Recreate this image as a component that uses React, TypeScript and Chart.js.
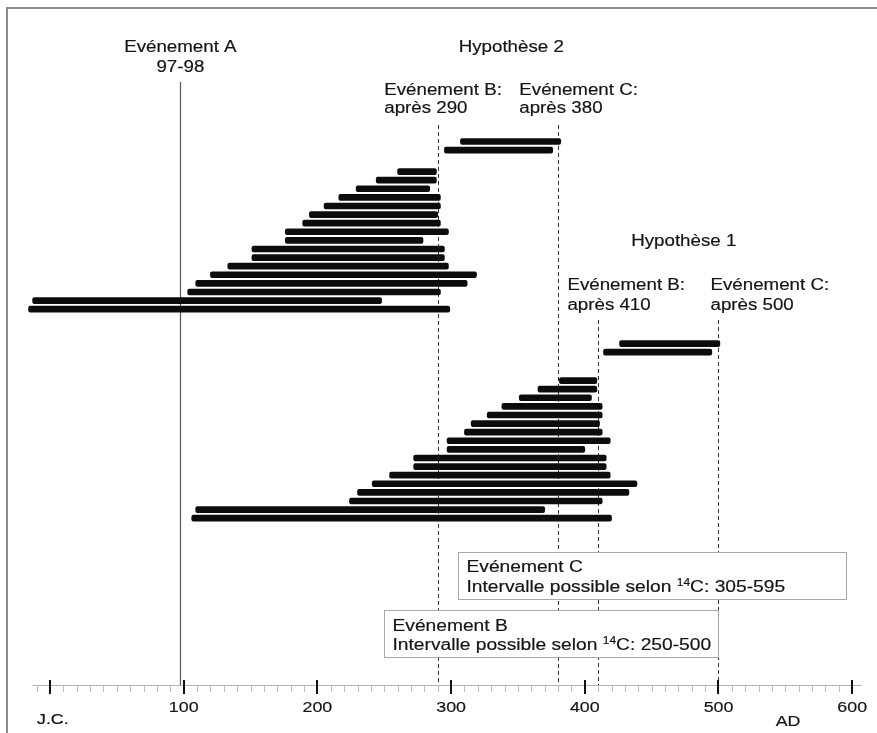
import React, { useEffect, useRef } from 'react';
import { Chart, registerables } from 'chart.js';

Chart.register(...registerables);

// ---- Data ----
// Hypothèse 2 (upper group): start / end years of each bar, and its row
const hyp2Start = [307, 295, 260, 244, 229, 216, 205, 194, 189, 176, 176, 151, 151, 133, 120, 109, 103, -13, -16];
const hyp2End = [382, 376, 289, 289, 284, 292, 292, 290, 292, 298, 279, 295, 295, 298, 319, 312, 292, 248, 299];
const hyp2Rows = [0, 1, 3.5, 4.5, 5.5, 6.5, 7.5, 8.5, 9.5, 10.5, 11.5, 12.5, 13.5, 14.5, 15.5, 16.5, 17.5, 18.5, 19.5];

// Hypothèse 1 (lower group)
const hyp1Start = [426, 414, 381, 365, 351, 338, 327, 315, 310, 297, 297, 272, 272, 254, 241, 230, 224, 109, 106];
const hyp1End = [501, 495, 409, 409, 405, 413, 413, 411, 413, 419, 400, 416, 416, 419, 439, 433, 413, 370, 420];
const hyp1Rows = [23.5, 24.5, 27.8, 28.8, 29.8, 30.8, 31.8, 32.8, 33.8, 34.8, 35.8, 36.8, 37.8, 38.8, 39.8, 40.8, 41.8, 42.8, 43.8];

// Events
const eventA = 97.5;
const eventALabel = ['Evénement A', '97-98'];
const hyp2Events = [290, 380];
const hyp1Events = [410, 500];
const eventCRange = [305, 595];
const eventBRange = [250, 500];

// Axis
const majorTicks = [0, 100, 200, 300, 400, 500, 600];
const majorLabels = ['J.C.', '100', '200', '300', '400', '500', '600'];
const axisRange = [-13, 607];

const FONT = '"Liberation Sans", Arial, Helvetica, sans-serif';

function drawText(
  ctx: CanvasRenderingContext2D,
  s: string,
  x: number,
  y: number,
  align: CanvasTextAlign,
  size: number,
  sx = 1.17
): number {
  ctx.save();
  ctx.font = `${size}px ${FONT}`;
  ctx.textAlign = align;
  ctx.textBaseline = 'middle';
  ctx.fillStyle = '#141414';
  ctx.strokeStyle = '#141414';
  ctx.lineWidth = 0.18;
  ctx.translate(x, y);
  ctx.scale(sx, 1);
  ctx.fillText(s, 0, 0);
  ctx.strokeText(s, 0, 0);
  const w = ctx.measureText(s).width * sx;
  ctx.restore();
  return w;
}

const annotations = {
  id: 'annotations',
  beforeDatasetsDraw(chart: any) {
    const ctx: CanvasRenderingContext2D = chart.ctx;
    const xs = chart.scales.x;
    const ys = chart.scales.y;
    const axisY = ys.getPixelForValue(63.2);

    // frame
    ctx.save();
    ctx.strokeStyle = '#8a8a8a';
    ctx.lineWidth = 2;
    ctx.beginPath();
    ctx.moveTo(7, chart.height);
    ctx.lineTo(7, 8);
    ctx.lineTo(chart.width, 8);
    ctx.stroke();
    ctx.restore();

    // event A line
    ctx.save();
    ctx.strokeStyle = '#555';
    ctx.lineWidth = 1.2;
    const ax = Math.round(xs.getPixelForValue(eventA)) + 0.5;
    ctx.beginPath();
    ctx.moveTo(ax, ys.getPixelForValue(-6.92));
    ctx.lineTo(ax, axisY);
    ctx.stroke();
    ctx.restore();

    // dashed lines
    const dashed = (v: number, top: number) => {
      const px = Math.round(xs.getPixelForValue(v)) + 0.5;
      ctx.save();
      ctx.strokeStyle = '#333';
      ctx.lineWidth = 1;
      ctx.setLineDash([4, 3]);
      ctx.beginPath();
      ctx.moveTo(px, ys.getPixelForValue(top));
      ctx.lineTo(px, axisY);
      ctx.stroke();
      ctx.restore();
    };
    hyp2Events.forEach((v) => dashed(v, -1.92));
    hyp1Events.forEach((v) => dashed(v, 20.76));
  },
  afterDatasetsDraw(chart: any) {
    const ctx: CanvasRenderingContext2D = chart.ctx;
    const xs = chart.scales.x;
    const ys = chart.scales.y;
    const axisY = ys.getPixelForValue(63.2);

    // top labels
    const axp = xs.getPixelForValue(eventA);
    drawText(ctx, eventALabel[0], axp, ys.getPixelForValue(-10.87), 'center', 16);
    drawText(ctx, eventALabel[1], axp, ys.getPixelForValue(-8.55), 'center', 16);

    drawText(ctx, 'Hypothèse 2', xs.getPixelForValue(345), ys.getPixelForValue(-10.87), 'center', 16);
    drawText(ctx, 'Evénement B:', xs.getPixelForValue(250), ys.getPixelForValue(-5.87), 'left', 16);
    drawText(ctx, `après ${hyp2Events[0]}`, xs.getPixelForValue(250), ys.getPixelForValue(-3.78), 'left', 16);
    drawText(ctx, 'Evénement C:', xs.getPixelForValue(351), ys.getPixelForValue(-5.87), 'left', 16);
    drawText(ctx, `après ${hyp2Events[1]}`, xs.getPixelForValue(351), ys.getPixelForValue(-3.78), 'left', 16);

    drawText(ctx, 'Hypothèse 1', xs.getPixelForValue(474), ys.getPixelForValue(11.69), 'center', 16);
    drawText(ctx, 'Evénement B:', xs.getPixelForValue(387), ys.getPixelForValue(16.8), 'left', 16);
    drawText(ctx, `après ${hyp1Events[0]}`, xs.getPixelForValue(387), ys.getPixelForValue(19.13), 'left', 16);
    drawText(ctx, 'Evénement C:', xs.getPixelForValue(494), ys.getPixelForValue(16.8), 'left', 16);
    drawText(ctx, `après ${hyp1Events[1]}`, xs.getPixelForValue(494), ys.getPixelForValue(19.13), 'left', 16);

    // boxes
    const box = (range: number[], r0: number, r1: number, title: string, t0: number, t1: number) => {
      const x0 = Math.round(xs.getPixelForValue(range[0])) + 0.5;
      const x1 = Math.round(xs.getPixelForValue(range[1])) + 0.5;
      const y0 = Math.round(ys.getPixelForValue(r0)) + 0.5;
      const y1 = Math.round(ys.getPixelForValue(r1)) + 0.5;
      ctx.save();
      ctx.fillStyle = '#ffffff';
      ctx.fillRect(x0, y0, x1 - x0, y1 - y0);
      ctx.strokeStyle = '#a8a8a8';
      ctx.lineWidth = 1;
      ctx.strokeRect(x0, y0, x1 - x0, y1 - y0);
      ctx.restore();
      const tx = x0 + 8;
      drawText(ctx, title, tx, ys.getPixelForValue(t0), 'left', 16, 1.2);
      const ly = ys.getPixelForValue(t1);
      let cx = tx;
      cx += drawText(ctx, 'Intervalle possible selon ', cx, ly, 'left', 16, 1.2);
      cx += drawText(ctx, '14', cx, ly - 5, 'left', 10, 1.2);
      drawText(ctx, `C: ${range[0]}-${range[1]}`, cx, ly, 'left', 16, 1.2);
    };
    box(eventCRange, 47.73, 53.2, 'Evénement C', 49.59, 51.92);
    box(eventBRange, 54.48, 59.94, 'Evénement B', 56.45, 58.66);

    // time axis
    ctx.save();
    ctx.strokeStyle = '#b5b5b5';
    ctx.lineWidth = 1;
    ctx.beginPath();
    ctx.moveTo(xs.getPixelForValue(axisRange[0]), axisY + 0.5);
    ctx.lineTo(xs.getPixelForValue(axisRange[1]), axisY + 0.5);
    ctx.stroke();
    ctx.strokeStyle = '#bdbdbd';
    for (let v = -10; v <= 600; v += 10) {
      if (v % 100 === 0) continue;
      const px = Math.round(xs.getPixelForValue(v)) + 0.5;
      ctx.beginPath();
      ctx.moveTo(px, axisY);
      ctx.lineTo(px, axisY + 7);
      ctx.stroke();
    }
    ctx.strokeStyle = '#111';
    ctx.lineWidth = 2;
    majorTicks.forEach((v) => {
      const px = Math.round(xs.getPixelForValue(v));
      ctx.beginPath();
      ctx.moveTo(px, axisY - 5);
      ctx.lineTo(px, axisY + 9);
      ctx.stroke();
    });
    ctx.restore();
    majorTicks.forEach((v, i) => {
      if (v === 0) {
        drawText(ctx, majorLabels[i], xs.getPixelForValue(v) - 13, ys.getPixelForValue(67.27), 'left', 15.5, 1.15);
      } else {
        drawText(ctx, majorLabels[i], xs.getPixelForValue(v), ys.getPixelForValue(65.87), 'center', 15.5, 1.15);
      }
    });
    drawText(ctx, 'AD', xs.getPixelForValue(552), ys.getPixelForValue(67.5), 'center', 15.5, 1.15);
  },
};

export default function App() {
  const ref = useRef<HTMLCanvasElement | null>(null);
  useEffect(() => {
    if (!ref.current) return;
    const mk = (s: number[], e: number[], r: number[]) => s.map((v, i) => ({ x: [v, e[i]], y: r[i] }));
    const chart = new Chart(ref.current, {
      type: 'bar',
      data: {
        datasets: [
          {
            label: 'Hypothèse 2',
            data: mk(hyp2Start, hyp2End, hyp2Rows) as any,
            backgroundColor: '#0c0c0c',
            borderColor: '#0c0c0c',
            borderWidth: 0,
            barThickness: 6,
            borderRadius: 2,
            borderSkipped: false,
            grouped: false,
          },
          {
            label: 'Hypothèse 1',
            data: mk(hyp1Start, hyp1End, hyp1Rows) as any,
            backgroundColor: '#0c0c0c',
            borderColor: '#0c0c0c',
            borderWidth: 0,
            barThickness: 6,
            borderRadius: 2,
            borderSkipped: false,
            grouped: false,
          },
        ],
      },
      options: {
        indexAxis: 'y',
        responsive: false,
        animation: false,
        layout: { padding: 0 },
        plugins: { legend: { display: false }, tooltip: { enabled: false } },
        scales: {
          x: { type: 'linear', min: (0 - 50) / 1.337, max: (877 - 50) / 1.337, display: false, offset: false },
          y: { type: 'linear', min: -16.45, max: 68.78, reverse: true, display: false, offset: false },
        },
      },
      plugins: [annotations],
    });
    return () => chart.destroy();
  }, []);
  return (
    <div style={{ position: 'fixed', left: 0, top: 0, width: 877, height: 733, background: '#fff' }}>
      <canvas ref={ref} width={877} height={733} style={{ display: 'block' }} />
    </div>
  );
}
